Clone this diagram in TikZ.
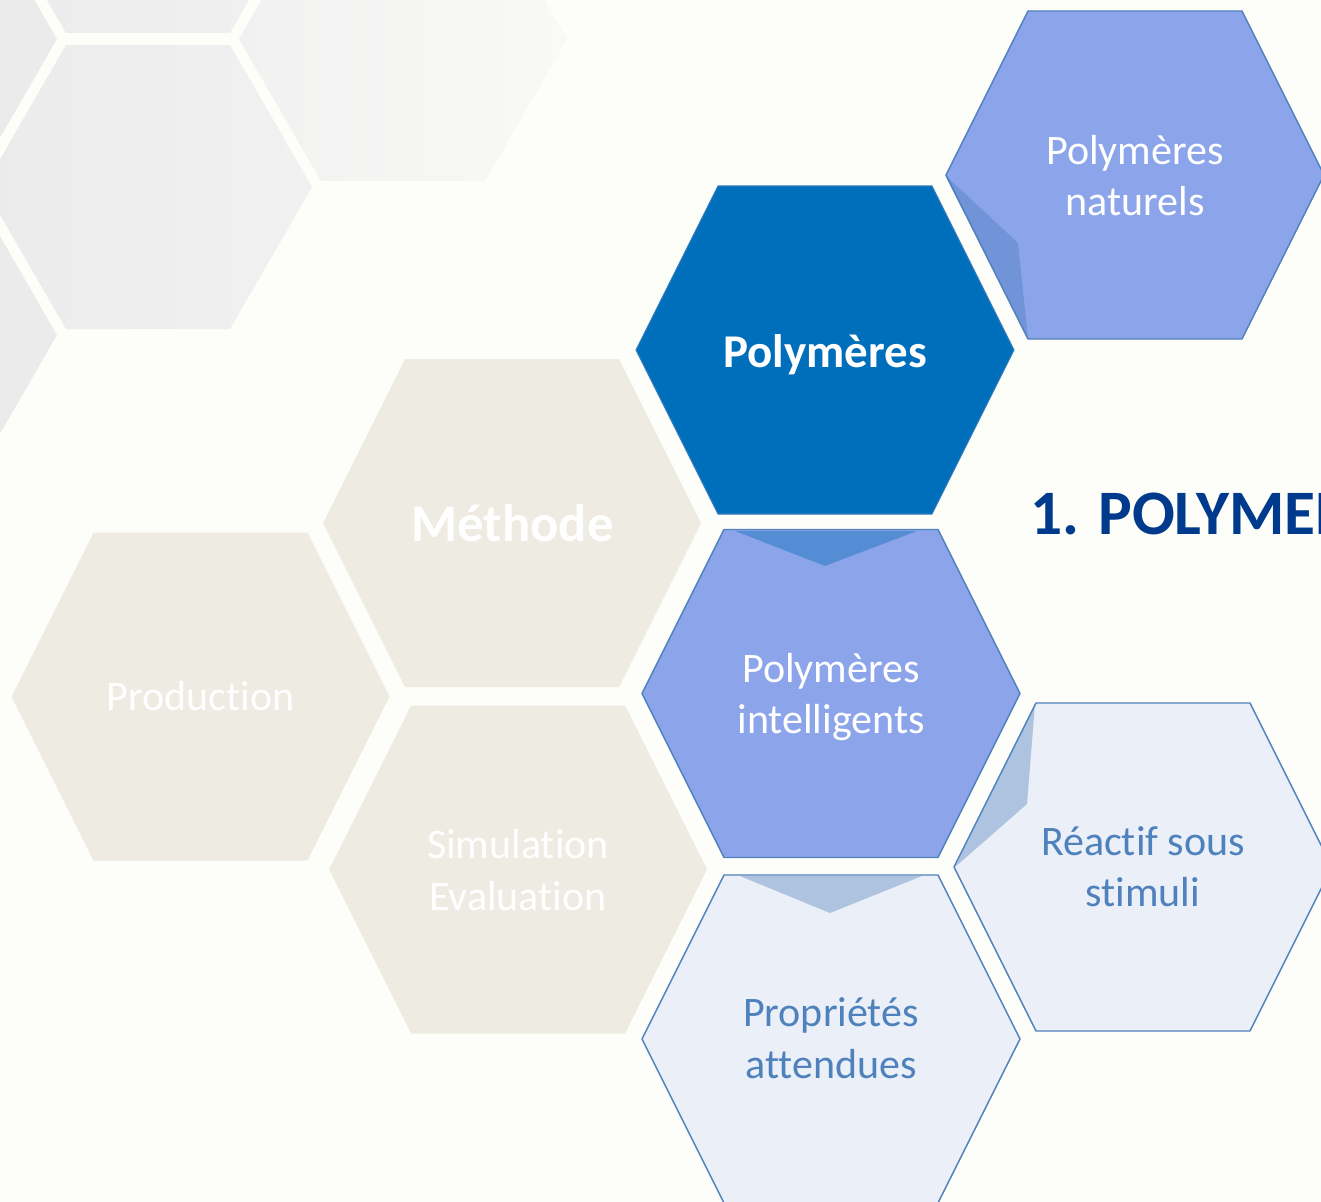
\documentclass[tikz,border=0pt]{standalone}
\usepackage{fontspec}
\setmainfont{Carlito}[Ligatures=NoCommon]
\definecolor{bgc}{HTML}{FDFDF9}
\definecolor{darkb}{HTML}{006FBB}
\definecolor{lightb}{HTML}{8CA5EA}
\definecolor{paleb}{HTML}{EAEFF8}
\definecolor{edgeb}{HTML}{4F81BD}
\definecolor{foldd}{HTML}{558DD5}
\definecolor{foldn}{HTML}{7193D7}
\definecolor{foldp}{HTML}{ADC3DF}
\definecolor{beige}{HTML}{EDEBE2}
\definecolor{titlec}{HTML}{003A8C}
\definecolor{grayA}{HTML}{EBEBEB}
\definecolor{grayB}{HTML}{F1F1F1}
\definecolor{grayC}{HTML}{F9F9F7}
\newcommand{\hexP}[5]{({#1-#3},{#2}) -- ({#1-#4},{#2-#5}) -- ({#1+#4},{#2-#5}) -- ({#1+#3},{#2}) -- ({#1+#4},{#2+#5}) -- ({#1-#4},{#2+#5}) -- cycle}
\tikzset{
  reg/.style={font=\fontsize{31.5}{38.6}\selectfont, align=center, inner sep=0pt},
  hexline/.style={draw=edgeb, line width=1.1pt, line join=round},
}
\begin{document}
\begin{tikzpicture}[x=0.75pt,y=-0.75pt]
\useasboundingbox (0,0) rectangle (1321,1202);
\clip (0,0) rectangle (1321,1202);
\fill[bgc] (0,0) rectangle (1321,1202);
% background gray honeycomb
\shade[left color=grayA, right color=grayB] \hexP{148}{187}{164}{82}{142};
\shade[left color=grayA, right color=grayB] \hexP{148}{-109}{164}{82}{142};
\shade[left color=grayB, right color=grayC] \hexP{403}{39}{164}{82}{142};
\fill[grayA] \hexP{-107}{39}{164}{82}{142};
\fill[grayA] \hexP{-107}{335}{164}{82}{142};
% beige hexagons
\fill[beige] \hexP{512}{523}{189}{107}{164};
\fill[beige] \hexP{200.5}{696.5}{189}{107}{164};
\fill[beige] \hexP{518}{869.5}{189}{107}{164};
% Polymeres
\fill[darkb] \hexP{825}{350}{189}{107}{164};
\draw[draw=edgeb!70!darkb, line width=0.8pt] \hexP{825}{350}{189}{107}{164};
% naturels
\fill[lightb] \hexP{1135}{175}{189}{107}{164};
\fill[foldn] (945,175) -- (1018,243) -- (1028,339) -- cycle;
\draw[hexline] \hexP{1135}{175}{189}{107}{164};
% intelligents
\fill[lightb] \hexP{831}{693.5}{189}{107}{164};
\fill[foldd] (735,531) -- (917,531) -- (825,566) -- cycle;
\draw[hexline] \hexP{831}{693.5}{189}{107}{164};
% reactif
\fill[paleb] \hexP{1143}{867}{189}{107}{164};
\fill[foldp] (1035,704) -- (1027,804) -- (955,867) -- cycle;
\draw[hexline] \hexP{1143}{867}{189}{107}{164};
% proprietes
\fill[paleb] \hexP{831}{1039}{189}{107}{164};
\fill[foldp] (740,876) -- (922,876) -- (830,913) -- cycle;
\draw[hexline] \hexP{831}{1039}{189}{107}{164};
% texts
\node[reg, white, font=\fontsize{35.25}{40}\selectfont\bfseries] (tpoly) at (825,354.5) {Polymères};
\node[reg, white] (tnat) at (1135,175.5) {Polymères\\naturels};
\node[reg, white] (tint) at (831,697) {Polymères\\intelligents};
\node[reg, edgeb] (treac) at (1143,866.5) {Réactif sous\\stimuli};
\node[reg, edgeb] (tprop) at (831,1038) {Propriétés\\attendues};
\node[reg, white, font=\fontsize{39.6}{44}\selectfont\bfseries] (tmeth) at (512.5,523) {Méthode};
\node[reg, white] (tprod) at (200.5,696.5) {Production};
\node[reg, white] (tsim) at (518,870) {Simulation\\Evaluation};
\node[inner sep=0pt, anchor=base west, text=titlec, font=\fontsize{47.5}{52}\selectfont\bfseries] (ttitle) at (1030,534) {1. POLYMER};
\end{tikzpicture}
\end{document}
